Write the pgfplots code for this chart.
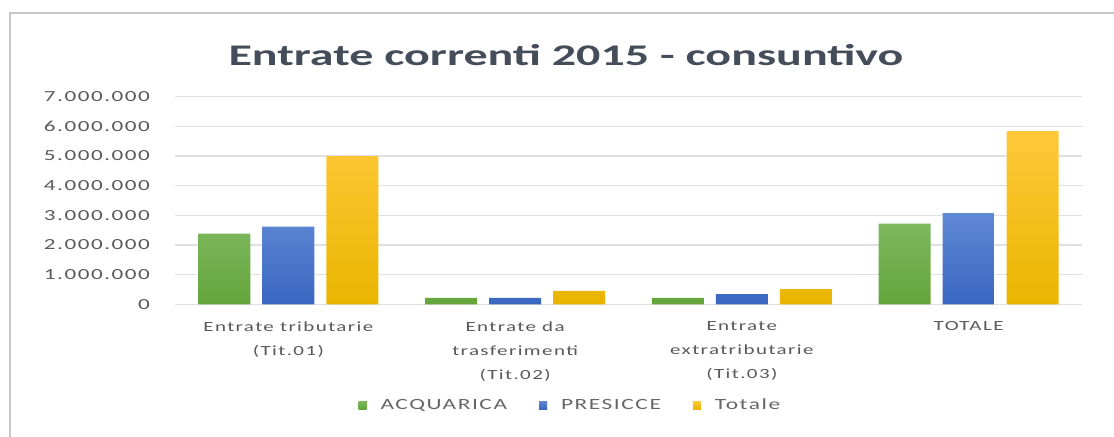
\documentclass[border=0pt]{standalone}
\usepackage{pgfplots}
\pgfplotsset{compat=1.18}
\usepackage{fontspec}
\setmainfont{Carlito}
\newfontfamily\lblfont[FakeStretch=1.5,LetterSpace=10]{Carlito}
\newfontfamily\titlefont[FakeStretch=1.6]{Carlito}
\definecolor{gtop}{HTML}{7DB85E}
\definecolor{gbot}{HTML}{63A53A}
\definecolor{btop}{HTML}{5F89D4}
\definecolor{bbot}{HTML}{3966C0}
\definecolor{ytop}{HTML}{FFC83A}
\definecolor{ybot}{HTML}{EAB500}
\definecolor{gridc}{HTML}{E0E0E0}
\definecolor{labc}{HTML}{595959}
\definecolor{legc}{HTML}{666666}
\definecolor{titlec}{HTML}{454D5A}
\begin{document}
\begin{tikzpicture}
\useasboundingbox (0pt,0pt) rectangle (557pt,218.5pt);
\draw[black!22, line width=1pt] (5pt,-2pt) -- (5pt,212pt) -- (560pt,212pt);
\node[font=\titlefont\bfseries\fontsize{15}{18}\selectfont, text=titlec] at (283pt,191pt) {Entrate correnti 2015 - consuntivo};
\begin{axis}[
  at={(87.5pt,66.35pt)}, anchor=south west,
  width=453.5pt, height=103.8pt, scale only axis,
  xmin=-0.5, xmax=3.5, ymin=0, ymax=7000000,
  scaled y ticks=false,
  ybar=6pt, bar width=26pt,
  axis line style={draw=none}, major tick length=0pt,
  ymajorgrids, grid style={gridc, line width=0.7pt},
  ytick={0,1000000,2000000,3000000,4000000,5000000,6000000,7000000},
  yticklabels={0,1.000.000,2.000.000,3.000.000,4.000.000,5.000.000,6.000.000,7.000.000},
  yticklabel style={font=\lblfont\fontsize{7.7}{9}\selectfont, text=labc, anchor=east, xshift=-9pt},
  xtick={0,1,2,3},
  xticklabels={{Entrate tributarie\\(Tit.01)},{Entrate da\\trasferimenti\\(Tit.02)},{Entrate\\extratributarie\\(Tit.03)},{TOTALE}},
  xticklabel style={align=center, font=\lblfont\fontsize{7}{12}\selectfont, text=labc, anchor=north, yshift=-5pt},
  legend style={at={(0.437,-0.49)}, anchor=center, draw=none, fill=none,
    legend columns=3, font=\lblfont\fontsize{7.8}{9}\selectfont, text=legc,
    /tikz/every odd column/.append style={column sep=5pt},
    /tikz/every even column/.append style={column sep=14pt}},
  legend image code/.code={\fill[#1] (0pt,-1.5pt) rectangle (4pt,2.5pt);},
]
\addplot[draw=none, top color=gtop, bottom color=gbot] coordinates {(0,2380000) (1,220000) (2,220000) (3,2720000)};
\addplot[draw=none, top color=btop, bottom color=bbot] coordinates {(0,2620000) (1,220000) (2,340000) (3,3070000)};
\addplot[draw=none, top color=ytop, bottom color=ybot] coordinates {(0,5000000) (1,450000) (2,510000) (3,5840000)};
\legend{ACQUARICA,PRESICCE,Totale}
\end{axis}
\end{tikzpicture}
\end{document}
